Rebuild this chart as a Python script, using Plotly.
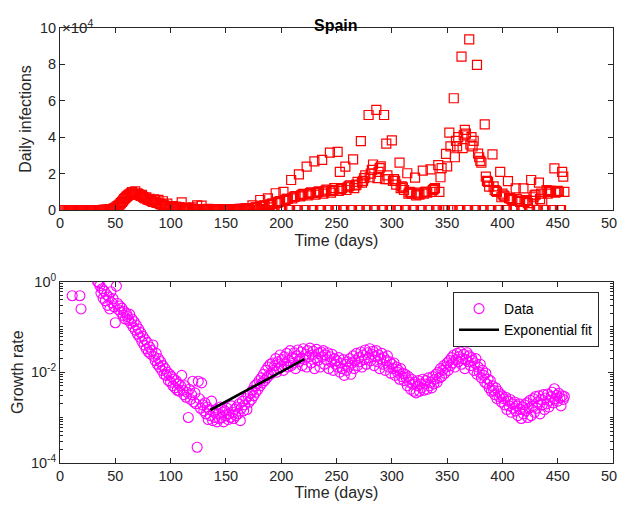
import plotly.graph_objects as go

# daily new cases, day 1 .. 456 (Spain)
daily_cases = [
    0, 0, 0, 0, 0, 0, 0, 0, 0, 1, 0, 0, 0, 0, 0, 0, 0, 1, 0, 0,
    0, 0, 0, 0, 0, 0, 0, 0, 0, 0, 0, 0, 0, 2, 4, 6, 13, 15, 32, 45,
    50, 80, 120, 170, 230, 300, 450, 600, 900, 1200,
    1800, 2200, 2600, 3100, 3800, 4500, 5200, 6000, 6600, 7200,
    7800, 8300, 8600, 9200, 9800, 9000, 8500, 10200, 8800, 9200,
    8700, 8100, 7800, 8300, 7200, 6800, 6400, 7000, 5800, 5500,
    6200, 5100, 4800, 4400, 5800, 5300, 4100, 3900, 5600, 3500,
    3200, 2900, 4800, 2600, 2300, 2100, 3500, 1900, 1600, 1500,
    1400, 2200, 1300, 1200, 1900, 1100, 1000, 1600, 900, 4200,
    800, 700, 1300, 600, 500, 1100, 900, 400, 600, 1500,
    500, 400, 300, 2600, 500, 400, 300, 2400, 400, 300,
    500, 400, 300, 600, 400, 300, 200, 300, 400, 300,
    300, 200, 400, 300, 200, 300, 400, 300, 200, 300,
    300, 400, 300, 200, 400, 300, 500, 400, 300, 500,
    400, 600, 500, 700, 500, 600, 800, 700, 900, 1000,
    1100, 0, 0,
    # weekly blocks Mon..Sun from day 174
    2500, 1000, 1200, 1400, 1500, 0, 0,
    5500, 1900, 2100, 2400, 2600, 0, 0,
    6400, 2700, 3000, 3300, 3600, 0, 0,
    9200, 3800, 4200, 4600, 4900, 0, 0,
    10000, 5000, 5600, 6100, 6200, 0, 0,
    16500, 6400, 7000, 7300, 7700, 0, 0,
    19600, 7500, 8000, 8500, 8900, 0, 0,
    23800, 8000, 8800, 9300, 9700, 0, 0,
    26700, 8500, 9400, 9900, 10200, 0, 0,
    27500, 9000, 10100, 10600, 11200, 0, 0,
    31500, 9500, 10500, 11000, 12000, 0, 0,
    31900, 10500, 20900, 11500, 12000, 0, 0,
    23800, 11000, 12500, 13000, 13500, 0, 0,
    27800, 12000, 13500, 14000, 15500, 0, 0,
    37900, 15000, 16000, 17500, 19000, 0, 0,
    52200, 18000, 20000, 22000, 25000, 0, 0,
    55000, 17500, 21000, 23000, 24000, 0, 0,
    52200, 17000, 36500, 19000, 17000, 0, 0,
    38300, 16000, 17000, 16000, 14000, 0, 0,
    26000, 12000, 13000, 12500, 11000, 0, 0,
    20200, 9000, 10000, 9500, 9000, 0, 0,
    17800, 8000, 9500, 9000, 8500, 0, 0,
    21600, 9000, 10000, 10000, 9500, 0, 0,
    22300, 10000, 11000, 11500, 12000, 0, 0,
    24700, 10000, 18000, 23000, 0, 0, 0,
    30800, 24000, 0, 42500, 35000, 0, 0,
    61400, 29000, 38000, 35000, 40000, 0, 0,
    84300, 34000, 41000, 44000, 42000, 0, 0,
    93800, 36000, 40000, 35000, 38000, 0, 0,
    79700, 31000, 29000, 27000, 26000, 0, 0,
    47100, 18300, 16000, 15500, 12800, 0, 0,
    30600, 13000, 11000, 10500, 10000, 0, 0,
    21000, 7000, 9000, 8000, 7500, 0, 0,
    15900, 6500, 6500, 6000, 5500, 0, 0,
    11900, 6000, 5000, 5000, 4500, 0, 0,
    11900, 4500, 5000, 5500, 3800, 0, 0,
    16500, 5000, 7000, 8000, 8500, 0, 0,
    15000, 6000, 9000, 5000, 0, 0, 0,
    11000, 9000, 10500, 10000, 10500, 0, 0,
    22900, 9500, 10000, 10500, 10000, 0, 0,
    21000, 18300, 10000,
]

# growth rate, early scattered points then daily from day 34 (values x 1e-3)
early_days = [11, 18, 19]
early_rate_milli = [490, 490, 250]
rate_start_day = 34
rate_milli = [
    1000, 950, 820, 560, 700, 430, 620,
    380, 520, 300, 460, 250, 600, 340, 420, 280, 124,
    800, 330, 240, 290, 210, 260, 180, 220, 150, 200,
    170, 140, 190, 120, 150, 100, 130, 85, 110, 70,
    90, 60, 75, 48, 62, 40, 52, 33, 45, 28,
    36, 25, 30, 40, 22, 18, 26, 15, 20, 13,
    17, 11, 14, 9, 12, 8.5, 10, 6.5, 9, 6,
    8, 5, 7, 4.5, 6.5, 4, 5.5, 3.8, 5, 8.5,
    4, 3.2, 5, 2.8, 3.6, 1.0, 4.2, 2.5, 3.2, 6.3,
    2.2, 3.5, 2.0, 0.22, 6.3, 2.6, 1.6, 5.8, 1.9, 1.4,
    2.1, 1.2, 1.7, 0.9, 1.5, 1.1, 2.3, 0.85, 1.3, 1.0,
    1.5, 0.8, 1.2, 0.95, 1.7, 1.0, 1.3, 0.8, 1.4, 1.1,
    1.6, 0.9, 1.2, 1.0, 1.8, 1.3, 0.95, 1.5, 1.1, 1.7,
    1.2, 2.0, 0.85, 1.6, 2.3, 1.4, 1.9, 2.6, 1.5, 3.0,
    2.2, 3.4, 2.5, 4.0, 3.0, 5.0, 3.6, 5.5, 4.2, 6.5,
    5.0, 7.5, 5.8, 9.0, 6.5, 11, 7.5, 13, 8.5, 15,
    9.5, 16, 11, 14, 20, 10, 17, 12, 24, 13,
    19, 11, 22, 15, 26, 13, 18, 30, 14, 21,
    16, 27, 12, 23, 31, 17, 20, 28, 14, 33,
    19, 25, 13, 30, 22, 34, 16, 24, 29, 12,
    21, 32, 18, 26, 13, 28, 22, 30, 15, 24,
    19, 27, 12, 22, 17, 25, 11, 20, 15, 18,
    13, 21, 10, 16, 12, 19, 8.5, 15, 11, 17,
    13, 20, 9, 16, 23, 12, 18, 26, 14, 21,
    17, 28, 13, 24, 19, 31, 15, 27, 21, 33,
    18, 25, 29, 14, 22, 30, 17, 24, 12, 20,
    26, 15, 21, 11, 18, 23, 13, 17, 9.5, 15,
    12, 16, 8.5, 13, 10, 11, 7, 12, 8, 9.5,
    6.5, 9, 7.5, 5, 8, 6, 4.2, 7, 5.5, 3.8,
    6, 3.5, 5, 6.5, 3.8, 5.5, 4.5, 7, 4, 5.5,
    6.5, 4.2, 7.5, 5, 6, 4.5, 8, 5.5, 7, 9,
    6, 10, 7.5, 12, 8, 11, 14, 9.5, 13, 16,
    11, 18, 14, 21, 16, 24, 13, 19, 26, 17,
    22, 28, 15, 20, 25, 12, 19, 27, 17, 23,
    14, 21, 18, 11, 16, 20, 9, 13, 10, 15,
    7.5, 11, 8.5, 6, 9.5, 5.5, 7, 4.5, 6.5, 3.8,
    5, 4, 3.2, 4.5, 2.6, 3.8, 2.9, 3.3, 2.2, 3.0,
    2.6, 1.9, 2.8, 1.5, 2.3, 1.8, 2.5, 1.3, 2.0, 1.6,
    2.2, 1.4, 1.8, 1.1, 2.0, 1.5, 0.95, 1.7, 1.2, 1.9,
    1.4, 2.1, 1.0, 1.6, 2.4, 1.1, 1.8, 2.6, 1.3, 2.9,
    1.6, 2.2, 3.0, 1.2, 2.5, 1.9, 3.2, 1.5, 2.7, 2.0,
    3.3, 1.7, 2.4, 2.9, 3.6, 2.1, 4.3, 2.6, 3.1, 2.3,
    3.4, 2.7, 1.8, 3.0, 2.5, 2.9,
]

# exponential fit endpoints (straight line on log axis)
fit_days = [136, 221]
fit_rate = [1.46e-3, 1.95e-2]

x_ticks = [0, 50, 100, 150, 200, 250, 300, 350, 400, 450, 500]
y1_ticks = [0, 20000, 40000, 60000, 80000, 100000]
y1_labels = ["0", "2", "4", "6", "8", "10"]
y2_ticks = [1e-4, 1e-2, 1]
y2_labels = ["10<sup>-4</sup>", "10<sup>-2</sup>", "10<sup>0</sup>"]

case_days = list(range(1, len(daily_cases) + 1))
rate_days = early_days + list(range(rate_start_day, rate_start_day + len(rate_milli)))
rates = [v / 1000 for v in early_rate_milli + rate_milli]

AX = "#262626"
TXT = "#262626"
FONT = "Liberation Sans, Arial, sans-serif"

fig = go.Figure()
fig.add_trace(go.Scatter(
    x=case_days, y=daily_cases, mode="markers", showlegend=False,
    marker=dict(symbol="square-open", size=9, color="#ff0000", line=dict(width=1.2)),
    xaxis="x", yaxis="y",
))
fig.add_trace(go.Scatter(
    x=rate_days, y=rates, mode="markers", name="Data",
    marker=dict(symbol="circle-open", size=10, color="#ff00ff", line=dict(width=1.1)),
    xaxis="x2", yaxis="y2",
))
fig.add_trace(go.Scatter(
    x=fit_days, y=fit_rate, mode="lines", name="Exponential fit",
    line=dict(color="black", width=2.6),
    xaxis="x2", yaxis="y2",
))

common = dict(showline=True, linecolor=AX, linewidth=1, mirror="ticks", ticks="inside",
              ticklen=5, tickcolor=AX, showgrid=False, zeroline=False, automargin=False,
              ticklabeloverflow="allow", tickfont=dict(size=14.5, color=TXT))

# the page body adds an 8px offset; the figure is sized so the page does not scroll
fig.update_layout(
    width=617, height=495,
    margin=dict(l=0, r=0, t=0, b=0, autoexpand=False),
    paper_bgcolor="white", plot_bgcolor="white",
    font=dict(family=FONT, size=15, color=TXT),
    xaxis=dict(domain=[0.0843, 0.9806], anchor="y", range=[0, 500], tickvals=x_ticks,
               title=dict(text="Time (days)", font=dict(size=16), standoff=4), **common),
    yaxis=dict(domain=[0.5919, 0.9596], anchor="x", range=[0, 100000], tickvals=y1_ticks,
               ticktext=y1_labels,
               title=dict(text="Daily infections", font=dict(size=16), standoff=4),
               **common),
    xaxis2=dict(domain=[0.0843, 0.9806], anchor="y2", range=[0, 500], tickvals=x_ticks,
                title=dict(text="Time (days)", font=dict(size=16), standoff=2), **common),
    yaxis2=dict(domain=[0.0814, 0.4471], anchor="x2", type="log", range=[-4, 0],
                tickvals=y2_ticks, ticktext=y2_labels,
                title=dict(text="Growth rate", font=dict(size=16), standoff=3),
                minor=dict(ticks="inside", ticklen=3, tickcolor=AX,
                           tickvals=[m * 10 ** e for e in range(-4, 0) for m in range(1, 10)
                                     if not (m == 1 and e in (-4, -2))]),
                **common),
    legend=dict(x=0.9579, y=0.4263, xanchor="right", yanchor="top",
                bgcolor="white", bordercolor=AX, borderwidth=1,
                font=dict(size=14, color="black"), itemwidth=40, tracegroupgap=0),
    annotations=[
        dict(text="<b>Spain</b>", x=0.5324, y=0.986, xref="paper", yref="paper",
             showarrow=False, font=dict(size=16, color="black")),
        dict(text="\u00d710<sup>4</sup>", x=0.0843, y=0.986, xref="paper", yref="paper",
             xanchor="left", showarrow=False, font=dict(size=15, color=TXT)),
    ],
)

fig.write_html("out.html")
